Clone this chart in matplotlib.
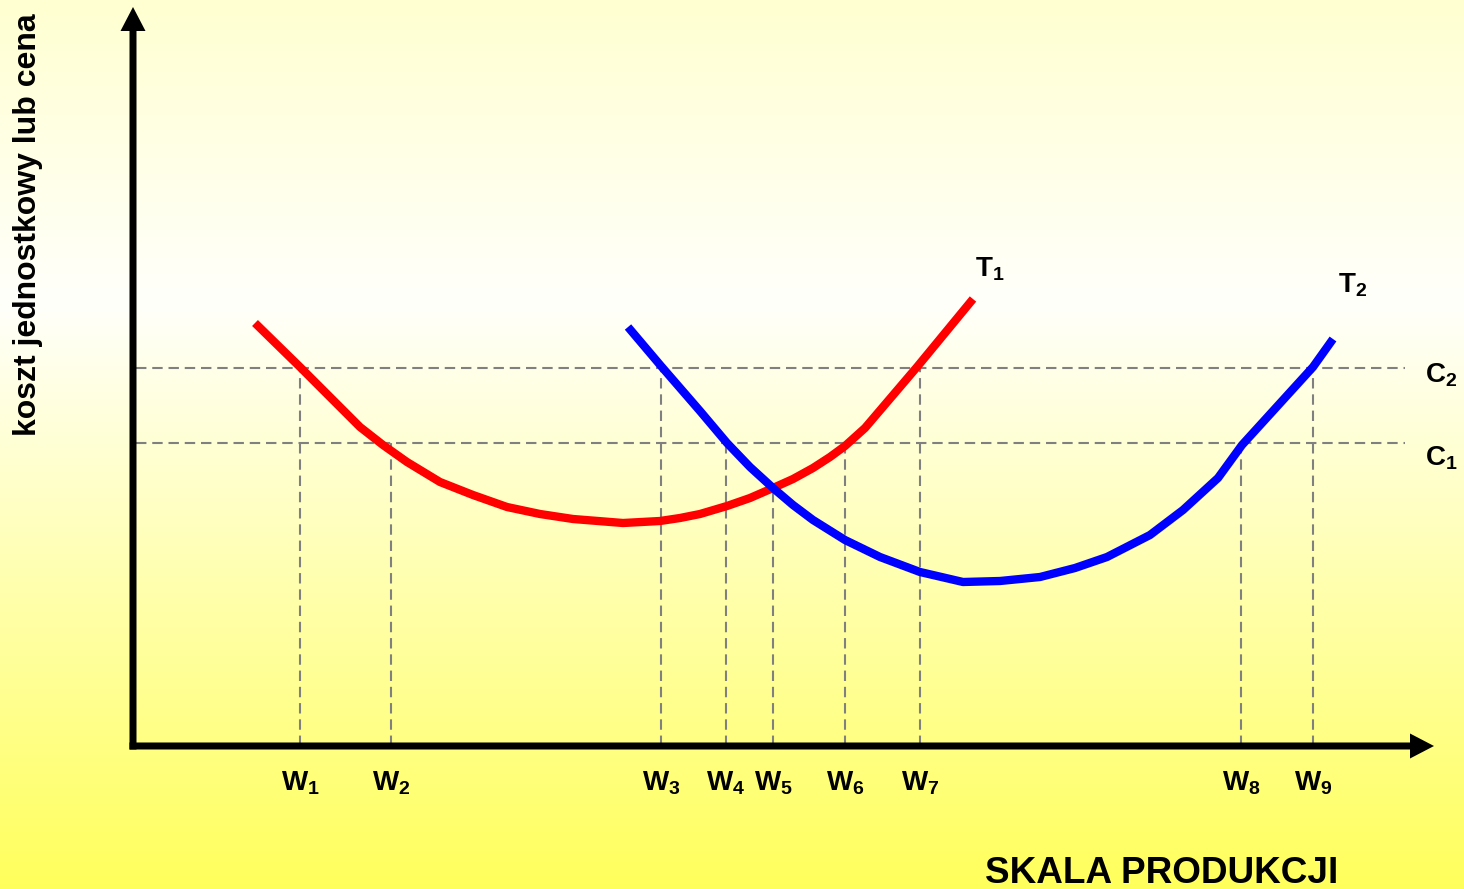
import numpy as np
import matplotlib
matplotlib.use("Agg")
import matplotlib.pyplot as plt

plt.rcParams['font.family'] = ['Liberation Sans', 'DejaVu Sans']
plt.rcParams['mathtext.fontset'] = 'custom'
plt.rcParams['mathtext.bf'] = 'Liberation Sans:bold'
plt.rcParams['mathtext.rm'] = 'Liberation Sans'

# ---- data (x = production scale, y = unit cost) ----
t1_x = [255, 300, 347, 360, 383, 407, 440, 473, 507, 540, 573, 623, 660, 680, 700, 727, 750, 773, 793, 813, 830, 845, 865, 917, 973]
t1_y = [566, 522, 475, 462, 444, 427, 407, 394, 382, 375, 370, 366, 368, 371, 375, 383, 391, 401, 410, 421, 432, 443, 461, 522, 590]

t2_x = [628, 661, 700, 727, 750, 773, 793, 813, 845, 880, 920, 963, 1000, 1040, 1075, 1107, 1150, 1183, 1218, 1242, 1313, 1333]
t2_y = [562, 523, 478, 446, 422, 401, 384, 369, 349, 332, 317, 307, 308, 312, 321, 332, 354, 379, 411, 444, 522, 550]

c_labels = ['C_1', 'C_2']
c_levels = [446, 521]

w_labels = ['W_1', 'W_2', 'W_3', 'W_4', 'W_5', 'W_6', 'W_7', 'W_8', 'W_9']
w_positions = [300, 391, 661, 726, 773, 845, 920, 1241, 1313]
w_tops = [521, 446, 521, 446, 401, 446, 521, 446, 521]

curve_labels = ['T_1', 'T_2']

x_axis_title = 'SKALA PRODUKCJI'
y_axis_title = 'koszt jednostkowy lub cena'

W, H = 1464, 889
fig = plt.figure(figsize=(W / 100, H / 100), dpi=100)
ax = fig.add_axes([0, 0, 1, 1])
ax.set_xlim(0, W)
ax.set_ylim(0, H)
ax.axis('off')

# background gradient (light yellow -> white -> yellow)
yy = np.linspace(0, 1, 400)
stops_pos = [0.0, 0.34, 1.0]  # from top
stops_b = [0.82, 0.985, 0.36]
b = np.interp(yy, stops_pos, stops_b)
grad = np.stack([np.ones_like(b), np.ones_like(b), b], axis=-1)[:, None, :]
ax.imshow(grad, extent=(0, W, 0, H), aspect='auto', origin='upper', zorder=0)

axis_y = 143   # level of the horizontal axis
axis_x = 133   # position of the vertical axis

# dashed guide lines
dash_kw = dict(color='#808080', lw=1.5, dashes=(5, 2.8), zorder=2)
for lvl in c_levels:
    ax.plot([136, 1405], [lvl, lvl], **dash_kw)
for xp, top in zip(w_positions, w_tops):
    ax.plot([xp, xp], [axis_y, top], **dash_kw)

# curves
ax.plot(t1_x, t1_y, color='#FF0000', lw=6, solid_capstyle='butt', solid_joinstyle='round', zorder=4)
ax.plot(t2_x, t2_y, color='#0000FF', lw=6, solid_capstyle='butt', solid_joinstyle='round', zorder=4)

# axes with arrows
ax.arrow(axis_x, axis_y - 3.5, 0, H - 7 - (axis_y - 3.5), width=7, head_width=25, head_length=24,
         length_includes_head=True, fc='black', ec='none', zorder=5)
ax.arrow(axis_x - 3.5, axis_y, 1434 - (axis_x - 3.5), 0, width=7, head_width=25, head_length=24,
         length_includes_head=True, fc='black', ec='none', zorder=5)

# W labels
for lab, xp in zip(w_labels, w_positions):
    m, s = lab.split('_')
    ax.text(xp, H - 790, r'$\mathbf{%s}_{\mathbf{%s}}$' % (m, s), fontsize=20,
            ha='center', va='baseline', zorder=6)

# C labels
c_baselines = [H - 465, H - 382]
for lab, yb in zip(c_labels, c_baselines):
    m, s = lab.split('_')
    ax.text(1425, yb, r'$\mathbf{%s}_{\mathbf{%s}}$' % (m, s), fontsize=20,
            ha='left', va='baseline', zorder=6)

# curve labels
t_pos = [(975, H - 276), (1338, H - 292)]
for lab, (xp, yb) in zip(curve_labels, t_pos):
    m, s = lab.split('_')
    ax.text(xp, yb, r'$\mathbf{%s}_{\mathbf{%s}}$' % (m, s), fontsize=20,
            ha='left', va='baseline', zorder=6)

# axis titles
ax.text(985, H - 883, x_axis_title, fontsize=26.6, fontweight='bold', ha='left', va='baseline', zorder=6)
ax.text(28, H - 225, y_axis_title, fontsize=23, fontweight='bold', rotation=90,
        ha='center', va='center', zorder=6)

fig.savefig('out.png', dpi=100)
